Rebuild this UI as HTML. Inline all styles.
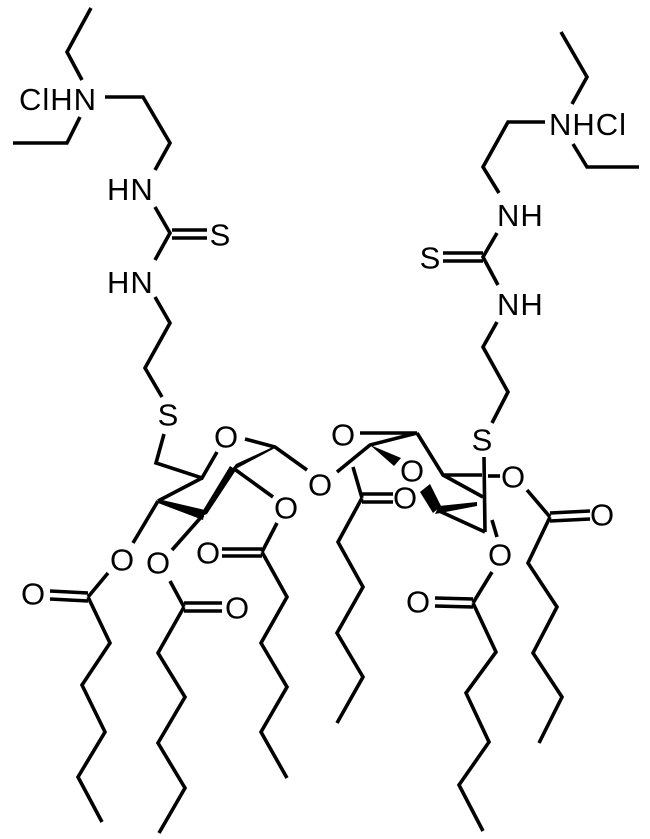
<!DOCTYPE html>
<html><head><meta charset="utf-8"><style>
html,body{margin:0;padding:0;background:#fff;}
svg{display:block;}
text{font-family:"Liberation Sans",Arial,sans-serif;font-size:31px;fill:#000;}
.w{letter-spacing:1px;}
.c{text-anchor:middle;dominant-baseline:central;}
</style></head><body>
<svg width="650" height="839" viewBox="0 0 650 839" xmlns="http://www.w3.org/2000/svg">
<g fill="none" stroke="#000" stroke-width="3.6" stroke-linejoin="miter" stroke-linecap="butt">
<polyline points="91,8 67,52 82,80"/>
<polyline points="80,117 67,143 13,143"/>
<polyline points="105,97 143,97 170,143 155,170"/>
<polyline points="155,207 170,233 155,260"/>
<line x1="172" y1="230" x2="207" y2="230"/><line x1="172" y1="238" x2="207" y2="238"/>
<polyline points="155,297 170,323 145,368 162,397"/>
<polyline points="164,434 156,463 202,478 217,452"/>
<polyline points="245,439 275,447 307,470"/>
<line x1="202" y1="478" x2="158" y2="501"/>
<line x1="233" y1="468" x2="273" y2="497"/>
<line x1="158" y1="501" x2="133" y2="543"/>
<line x1="203" y1="515" x2="172" y2="550"/>
<line x1="277" y1="523" x2="262" y2="552"/>
<line x1="262" y1="549" x2="222" y2="549"/><line x1="262" y1="556" x2="222" y2="556"/>
<line x1="108" y1="573" x2="88" y2="597"/>
<line x1="88" y1="593" x2="50" y2="591"/><line x1="88" y1="601" x2="50" y2="599"/>
<polyline points="88,597 110,643 82,685 105,732 78,777 102,822"/>
<line x1="170" y1="581" x2="184" y2="607"/>
<line x1="184" y1="603" x2="222" y2="603"/><line x1="184" y1="611" x2="222" y2="611"/>
<polyline points="184,607 158,653 185,697 158,743 185,788 159,833"/>
<polyline points="262,552 287,597 261,643 287,687 261,732 287,778"/>
<polyline points="337,472 370,445 417,433 360,433"/>
<line x1="353" y1="467" x2="362" y2="498"/>
<line x1="362" y1="494" x2="393" y2="494"/><line x1="362" y1="502" x2="393" y2="502"/>
<polyline points="362,498 338,542 363,587 337,633 363,677 337,723"/>
<polyline points="417,433 443,475 482,475"/>
<line x1="488" y1="476" x2="500" y2="476"/>
<line x1="443" y1="475" x2="483" y2="497"/>
<line x1="437" y1="510" x2="485" y2="532"/>
<line x1="484" y1="457" x2="485" y2="532"/>
<polyline points="492,423 508,392 483,347 497,322"/>
<polyline points="498,285 483,257 497,233"/>
<line x1="483" y1="253" x2="443" y2="253"/><line x1="483" y1="261" x2="443" y2="261"/>
<polyline points="499,193 483,167 508,122 545,122"/>
<polyline points="561,32 587,77 572,104"/>
<polyline points="573,144 587,167 639,167"/>
<line x1="492" y1="520" x2="497" y2="537"/>
<line x1="527" y1="490" x2="550" y2="517"/>
<line x1="550" y1="513" x2="590" y2="511"/><line x1="550" y1="521" x2="590" y2="519"/>
<polyline points="550,517 528,563 557,607 533,653 562,697 539,743"/>
<line x1="492" y1="572" x2="473" y2="603"/>
<line x1="473" y1="599" x2="435" y2="598"/><line x1="473" y1="607" x2="435" y2="606"/>
<polyline points="473,603 496,652 466,693 489,742 459,785 483,831"/>
</g>
<g fill="#000" stroke="none">
<polygon points="158,499 158,503 203,520 205,510"/>
<polygon points="199,517 207,514 236,470 230,466"/>
<polygon points="230,472 236,464 275,446 275,448"/>
<polygon points="370,445 394,466 401,458"/>
<polygon points="420,492 430,484 441,506 433,513"/>
<polygon points="435,514 439,506 477,502 477,506"/>
</g>
<text class="w" x="19" y="110">ClHN</text>
<text class="w" x="107" y="200">HN</text>
<text class="w" x="107" y="293">HN</text>
<text class="w" x="549" y="135">NHCl</text>
<text class="w" x="497" y="226">NH</text>
<text class="w" x="497" y="315">NH</text>
<text class="c" x="220" y="235">S</text>
<text class="c" x="430" y="258">S</text>
<text class="c" x="168" y="415">S</text>
<text class="c" x="482" y="440">S</text>
<text class="c" x="226" y="437">O</text>
<text class="c" x="320" y="485">O</text>
<text class="c" x="286" y="508">O</text>
<text class="c" x="122" y="560">O</text>
<text class="c" x="158" y="563">O</text>
<text class="c" x="33" y="594">O</text>
<text class="c" x="208" y="553">O</text>
<text class="c" x="237" y="608">O</text>
<text class="c" x="343" y="435">O</text>
<text class="c" x="412" y="471">O</text>
<text class="c" x="405" y="498">O</text>
<text class="c" x="513" y="477">O</text>
<text class="c" x="602" y="515">O</text>
<text class="c" x="500" y="555">O</text>
<text class="c" x="418" y="602">O</text>
</svg>
</body></html>
